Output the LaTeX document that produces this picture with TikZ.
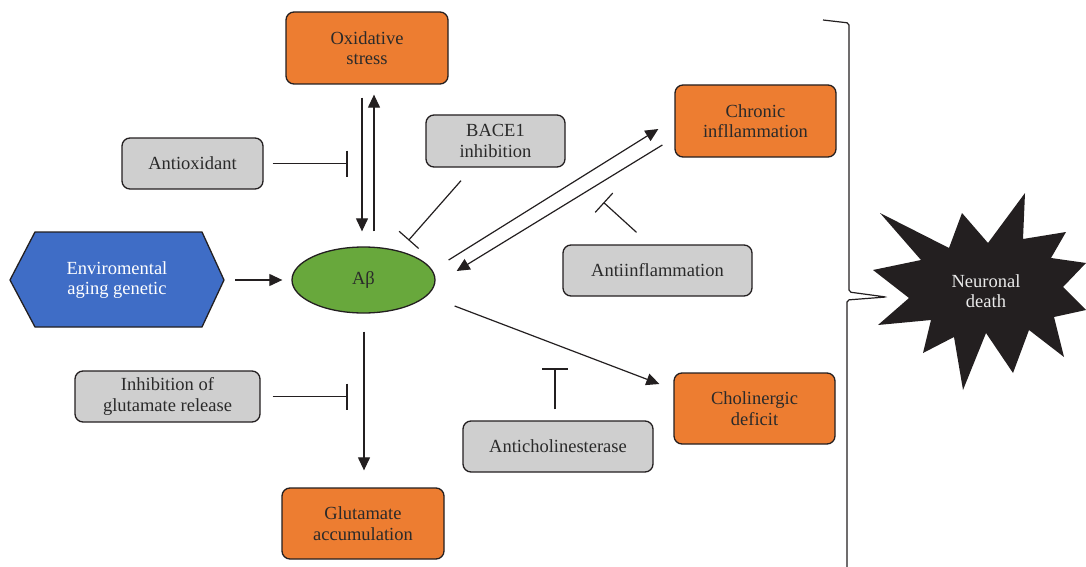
\documentclass[tikz,border=0pt]{standalone}
\usepackage{fontspec}
\setmainfont{Liberation Serif}
\usetikzlibrary{arrows.meta,shapes.geometric,calc}
\definecolor{orng}{HTML}{ED7D31}
\definecolor{gry}{HTML}{CFCFCF}
\definecolor{blu}{HTML}{3F6DC6}
\definecolor{grn}{HTML}{68A83C}
\definecolor{dark}{HTML}{231F20}
\definecolor{txt}{HTML}{2A2A2A}
\tikzset{
  box/.style={draw=dark,line width=1.3pt,rounded corners=8pt,align=center,inner sep=0pt,
    font=\fontsize{18.5}{20.5}\selectfont,text=txt},
  obox/.style={box,fill=orng},
  gbox/.style={box,fill=gry},
  arr/.style={line width=1.2pt,draw=dark,-{Triangle[length=13pt,width=12pt]}},
  inh/.style={line width=1.2pt,draw=dark,-{Bar[width=26pt,line width=1.2pt]}},
}
\begin{document}
\begin{tikzpicture}[x=1pt,y=-1pt]
\useasboundingbox (0,0) rectangle (1086,567);

% boxes
\node[obox,minimum width=162,minimum height=72] (ox) at (367,48) {Oxidative\\stress};
\node[gbox,minimum width=139,minimum height=52] (bace) at (495.5,141) {BACE1\\inhibition};
\node[gbox,minimum width=141,minimum height=51] (antiox) at (192.5,163.5) {Antioxidant};
\node[obox,minimum width=161,minimum height=72] (chron) at (755.5,121) {Chronic\\infllammation};
\node[gbox,minimum width=189,minimum height=51] (antiinf) at (657.5,270.5) {Antiinflammation};
\node[gbox,minimum width=185,minimum height=51] (inhglu) at (167.5,396.5) {Inhibition of\\glutamate release};
\node[obox,minimum width=161,minimum height=71] (chol) at (754.5,408.5) {Cholinergic\\deficit};
\node[gbox,minimum width=190,minimum height=51] (antich) at (558,446.5) {Anticholinesterase};
\node[obox,minimum width=162,minimum height=71] (glu) at (363,523.5) {Glutamate\\accumulation};

% hexagon
\draw[fill=blu,draw=dark,line width=1.3pt] (10,280)--(35,232)--(202,232)--(224,280)--(202,327)--(35,327)--cycle;
\node[align=center,inner sep=0pt,minimum width=214,minimum height=95,text=white,
  font=\fontsize{18.5}{20.5}\selectfont] (env) at (117,280) {Enviromental\\aging genetic};

% ellipse
\node[ellipse,draw=dark,line width=1.3pt,fill=grn,minimum width=143,minimum height=66,inner sep=0pt,
  font=\fontsize{18.5}{20.5}\selectfont,text=txt] (ab) at (363.5,280) {Aβ};

% star
\fill[dark] (1025,193)--(1023,239)--(1066,232)--(1051,258)--(1086,263)--(1063,287)--(1086,310)
  --(1054,317)--(1064,357)--(1029,330)--(1013,373)--(986,333)--(963,390)--(954,337)--(923,353)
  --(931,320)--(878,325)--(909,298)--(873,270)--(921,260)--(880,213)--(949,248)--(962,213)
  --(988,243)--cycle;
\node[align=center,inner sep=0pt,text=white!92!black,font=\fontsize{18.5}{20.5}\selectfont] (nd) at (986,291) {Neuronal\\death};

% bracket
\draw[dark,line width=1.2pt,rounded corners=2pt] (823,20)--(849,23)--(849,292)--(886,297)--(847,300)--(847,567);

% connectors
\draw[arr] ($(ox.south)+(-5,13)$) -- ($(ab.north)+(-1.5,-15)$);
\draw[arr] ($(ab.north)+(10.5,-15)$) -- ($(ox.south)+(7,10)$);
\draw[inh] ($(antiox.east)+(9,0)$) -- ($(antiox.east)+(84,0)$);
\draw[inh] ($(bace.south)+(-34.5,13)$) -- ($(ab.north)+(45,-6)$);
\draw[arr] ($(env.east)+(11,0)$) -- ($(ab.west)+(-9,0)$);
\draw[arr] ($(ab.east)+(13,-20)$) -- ($(chron.west)+(-16,8)$);
\draw[arr] ($(chron.west)+(-12,24)$) -- ($(ab.east)+(21,-9)$);
\draw[inh] ($(antiinf.north)+(-21,-12)$) -- ($(antiinf.north)+(-54,-42)$);
\draw[arr] ($(ab.east)+(19,26)$) -- ($(chol.west)+(-14,-24.5)$);
\draw[inh] ($(antich.north)+(-3,-11)$) -- ($(antich.north)+(-3,-52)$);
\draw[arr] ($(ab.south)+(0.5,18)$) -- ($(glu.north)+(1,-17)$);
\draw[inh] ($(inhglu.east)+(12,0)$) -- ($(inhglu.east)+(87,0)$);
\end{tikzpicture}
\end{document}
